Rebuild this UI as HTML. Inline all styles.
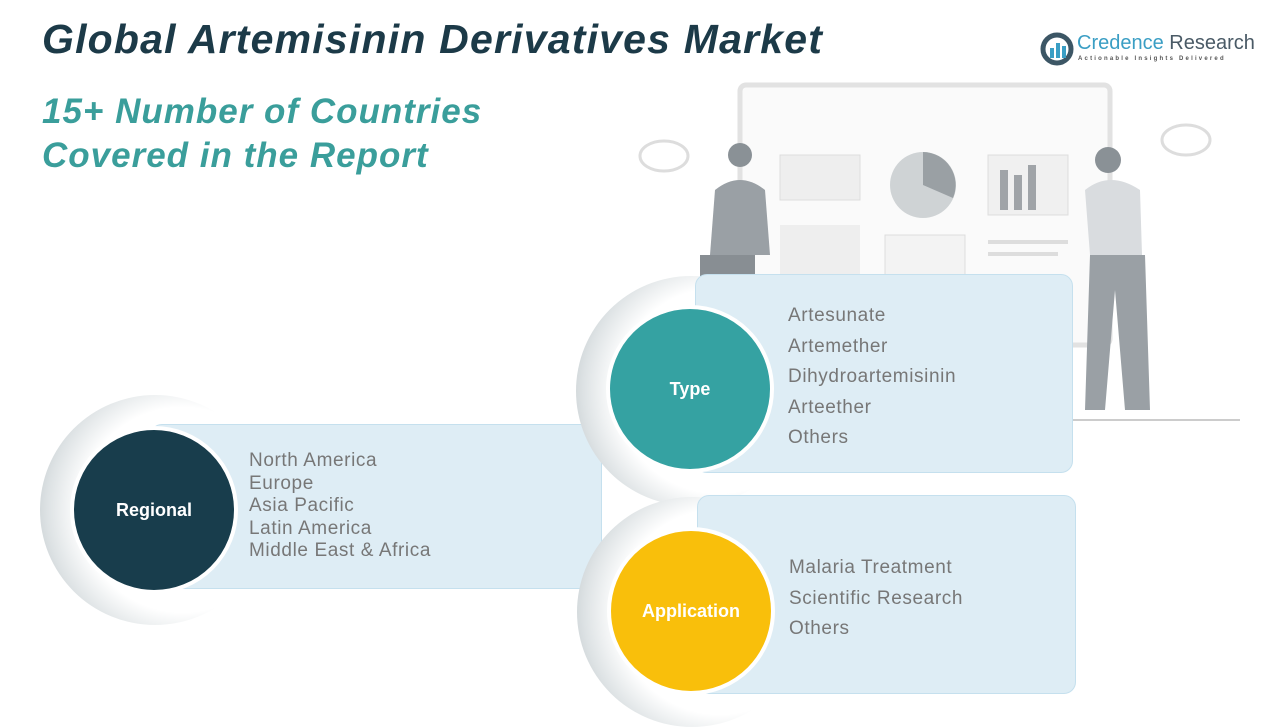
<!DOCTYPE html>
<html><head><meta charset="utf-8"><style>
*{margin:0;padding:0;box-sizing:border-box}
body{width:1280px;height:720px;background:#fff;position:relative;overflow:hidden;font-family:"Liberation Sans",sans-serif}
.abs{position:absolute}
.t1{left:42px;top:16px;font-size:41px;font-weight:bold;font-style:italic;color:#1c3a48;letter-spacing:1.2px}
.t2{left:42px;top:90px;font-size:35px;font-weight:bold;font-style:italic;color:#3a9e9b;line-height:44px;letter-spacing:1px}
.panel{background:#deedf5;border-radius:12px;border:1.5px solid #c5e0ee}
.ring{border-radius:50%;background:radial-gradient(circle at 62% 50%,#fff 56%,#dde2e4 74%,#a3adb2 100%)}
.circ{border-radius:50%;border:4px solid #fff;color:#fff;font-weight:bold;font-size:18px;display:flex;align-items:center;justify-content:center}
.list{color:#777;font-size:19px;letter-spacing:0.6px}
</style></head><body>
<div class="abs t1">Global Artemisinin Derivatives Market</div>
<div class="abs t2">15+ Number of Countries<br>Covered in the Report</div>

<svg class="abs" style="left:1040px;top:32px" width="34" height="34" viewBox="0 0 34 34"><circle cx="17" cy="17" r="14" fill="none" stroke="#3c5665" stroke-width="5"/><rect x="10" y="16" width="4" height="10" fill="#3a9ec4"/><rect x="16" y="11" width="4" height="15" fill="#3a9ec4"/><rect x="22" y="14" width="4" height="12" fill="#3a9ec4"/></svg>
<div class="abs" style="left:1077px;top:32px;font-size:20px;color:#3a9ec4">Credence <span style="color:#4a5a66">Research</span></div>
<div class="abs" style="left:1078px;top:56px;font-size:6px;letter-spacing:2.2px;color:#555;font-weight:bold">Actionable Insights Delivered</div>

<svg class="abs" style="left:630px;top:80px" width="620" height="345" viewBox="0 0 620 345">
<rect x="110" y="5" width="370" height="260" rx="6" fill="#fafafa" stroke="#e2e2e2" stroke-width="5"/>
<rect x="150" y="75" width="80" height="45" fill="#eee" stroke="#ddd"/>
<circle cx="293" cy="105" r="33" fill="#cfd3d5"/><path d="M293 105 L293 72 A33 33 0 0 1 323 118 Z" fill="#9aa0a4"/>
<rect x="358" y="75" width="80" height="60" fill="#f0f0f0" stroke="#ddd"/>
<rect x="370" y="90" width="8" height="40" fill="#a0a4a8"/><rect x="384" y="95" width="8" height="35" fill="#a0a4a8"/><rect x="398" y="85" width="8" height="45" fill="#a0a4a8"/>
<rect x="150" y="145" width="80" height="60" fill="#eee"/><rect x="255" y="155" width="80" height="50" fill="#f3f3f3" stroke="#ddd"/>
<rect x="358" y="160" width="80" height="4" fill="#ddd"/><rect x="358" y="172" width="70" height="4" fill="#ddd"/>
<ellipse cx="34" cy="76" rx="24" ry="15" fill="none" stroke="#ddd" stroke-width="3"/>
<ellipse cx="556" cy="60" rx="24" ry="15" fill="none" stroke="#ddd" stroke-width="3"/>
<circle cx="110" cy="75" r="12" fill="#8a9196"/>
<path d="M85 110 Q110 90 135 110 L140 175 L80 175 Z" fill="#9aa0a5"/>
<rect x="70" y="175" width="55" height="100" fill="#888e93"/>
<circle cx="478" cy="80" r="13" fill="#8a9196"/>
<path d="M455 110 Q480 90 510 110 L512 175 L460 175 Z" fill="#d9dcdf"/>
<path d="M460 175 L515 175 L520 330 L495 330 L485 210 L475 330 L455 330 Z" fill="#9aa0a5"/>
<line x1="440" y1="340" x2="610" y2="340" stroke="#ccc" stroke-width="2"/>
</svg>

<div class="abs ring" style="left:40px;top:395px;width:230px;height:230px"></div>
<div class="abs panel" style="left:150px;top:424px;width:452px;height:165px"></div>
<div class="abs circ" style="left:70px;top:426px;width:168px;height:168px;background:#183d4c">Regional</div>
<div class="abs list" style="left:249px;top:450px;line-height:22.6px">North America<br>Europe<br>Asia Pacific<br>Latin America<br>Middle East &amp; Africa</div>

<div class="abs ring" style="left:576px;top:276px;width:230px;height:230px"></div>
<div class="abs panel" style="left:695px;top:274px;width:378px;height:199px"></div>
<div class="abs circ" style="left:606px;top:305px;width:168px;height:168px;background:#35a2a2">Type</div>
<div class="abs list" style="left:788px;top:301px;line-height:30.5px">Artesunate<br>Artemether<br>Dihydroartemisinin<br>Arteether<br>Others</div>

<div class="abs ring" style="left:577px;top:497px;width:230px;height:230px"></div>
<div class="abs panel" style="left:697px;top:495px;width:379px;height:199px"></div>
<div class="abs circ" style="left:607px;top:527px;width:168px;height:168px;background:#f9bf0b">Application</div>
<div class="abs list" style="left:789px;top:553px;line-height:30.5px">Malaria Treatment<br>Scientific Research<br>Others</div>
</body></html>
